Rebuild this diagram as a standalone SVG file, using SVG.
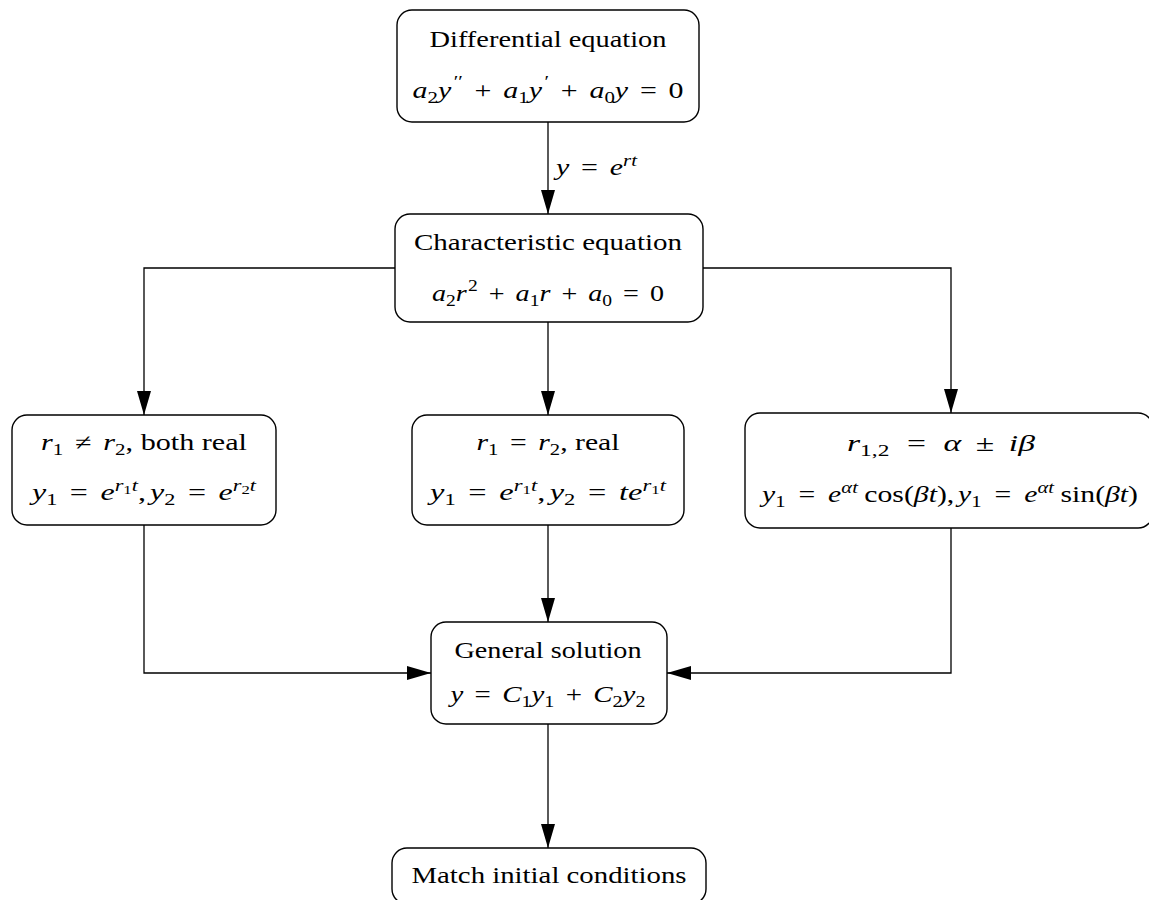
<svg xmlns="http://www.w3.org/2000/svg" width="1149" height="900" viewBox="0 0 1149 900">
<style>
.box{fill:#fff;stroke:#000;stroke-width:1.4}
.t{font-family:"Liberation Serif",serif;font-size:23px;fill:#000}
.m{font-size:23px}
.i{font-style:italic}
.s{font-size:16px}
.ss{font-size:12px}
.c{fill:none;stroke:#000;stroke-width:1.3}
</style>
<defs>
<marker id="ah" markerUnits="userSpaceOnUse" markerWidth="24" markerHeight="14" refX="24" refY="7" orient="auto">
<path d="M0,0 L24,7 L0,14 z" fill="#000"/>
</marker>
</defs>
<rect width="1149" height="900" fill="#fff"/>
<g id="connectors">
<path class="c" d="M548,122 V214" marker-end="url(#ah)"/>
<path class="c" d="M395,268 H144 V415" marker-end="url(#ah)"/>
<path class="c" d="M548,322 V415" marker-end="url(#ah)"/>
<path class="c" d="M703,268 H951 V413" marker-end="url(#ah)"/>
<path class="c" d="M144,525 V673 H431" marker-end="url(#ah)"/>
<path class="c" d="M548,525 V622" marker-end="url(#ah)"/>
<path class="c" d="M951,528 V673 H667" marker-end="url(#ah)"/>
<path class="c" d="M548,724 V848" marker-end="url(#ah)"/>
<text class="t m" x="556" y="175" textLength="81" lengthAdjust="spacingAndGlyphs"><tspan class="i">y</tspan><tspan dx="9">=</tspan><tspan class="i" dx="9">e</tspan><tspan class="s i" dy="-9">rt</tspan></text>
</g>
<g id="n1">
<rect class="box" x="397" y="10" width="302" height="112" rx="15"/>
<text class="t" x="548" y="47" text-anchor="middle" textLength="237" lengthAdjust="spacingAndGlyphs">Differential equation</text>
<text class="t m" x="548" y="98" text-anchor="middle" textLength="271" lengthAdjust="spacingAndGlyphs"><tspan class="i">a</tspan><tspan class="s" dy="5">2</tspan><tspan class="i" dy="-5">y</tspan><tspan class="s" dy="-11" dx="2">′′</tspan><tspan dy="11" dx="9">+</tspan><tspan class="i" dx="9">a</tspan><tspan class="s" dy="5">1</tspan><tspan class="i" dy="-5">y</tspan><tspan class="s" dy="-11" dx="2">′</tspan><tspan dy="11" dx="9">+</tspan><tspan class="i" dx="9">a</tspan><tspan class="s" dy="5">0</tspan><tspan class="i" dy="-5">y</tspan><tspan dx="9">=</tspan><tspan dx="9">0</tspan></text>
</g>
<g id="n2">
<rect class="box" x="395" y="214" width="308" height="108" rx="15"/>
<text class="t" x="548" y="250" text-anchor="middle" textLength="268" lengthAdjust="spacingAndGlyphs">Characteristic equation</text>
<text class="t m" x="548" y="301" text-anchor="middle" textLength="232" lengthAdjust="spacingAndGlyphs"><tspan class="i">a</tspan><tspan class="s" dy="5">2</tspan><tspan class="i" dy="-5">r</tspan><tspan class="s" dy="-10" dx="1">2</tspan><tspan dy="10" dx="9">+</tspan><tspan class="i" dx="9">a</tspan><tspan class="s" dy="5">1</tspan><tspan class="i" dy="-5">r</tspan><tspan dx="9">+</tspan><tspan class="i" dx="9">a</tspan><tspan class="s" dy="5">0</tspan><tspan dy="-5" dx="9">=</tspan><tspan dx="9">0</tspan></text>
</g>
<g id="n3">
<rect class="box" x="12" y="415" width="264" height="110" rx="15"/>
<text class="t m" x="144" y="450" text-anchor="middle" textLength="206" lengthAdjust="spacingAndGlyphs"><tspan class="i">r</tspan><tspan class="s" dy="5">1</tspan><tspan dy="-5" dx="9">≠</tspan><tspan class="i" dx="9">r</tspan><tspan class="s" dy="5">2</tspan><tspan dy="-5">, both real</tspan></text>
<text class="t m" x="144" y="500" text-anchor="middle" textLength="224" lengthAdjust="spacingAndGlyphs"><tspan class="i">y</tspan><tspan class="s" dy="5">1</tspan><tspan dy="-5" dx="9">=</tspan><tspan class="i" dx="9">e</tspan><tspan class="s i" dy="-9">r</tspan><tspan class="ss" dy="3">1</tspan><tspan class="s i" dy="-3">t</tspan><tspan dy="9">,</tspan><tspan class="i" dx="3">y</tspan><tspan class="s" dy="5">2</tspan><tspan dy="-5" dx="9">=</tspan><tspan class="i" dx="9">e</tspan><tspan class="s i" dy="-9">r</tspan><tspan class="ss" dy="3">2</tspan><tspan class="s i" dy="-3">t</tspan></text>
</g>
<g id="n4">
<rect class="box" x="412" y="415" width="272" height="110" rx="15"/>
<text class="t m" x="548" y="450" text-anchor="middle" textLength="143" lengthAdjust="spacingAndGlyphs"><tspan class="i">r</tspan><tspan class="s" dy="5">1</tspan><tspan dy="-5" dx="9">=</tspan><tspan class="i" dx="9">r</tspan><tspan class="s" dy="5">2</tspan><tspan dy="-5">, real</tspan></text>
<text class="t m" x="548" y="500" text-anchor="middle" textLength="236" lengthAdjust="spacingAndGlyphs"><tspan class="i">y</tspan><tspan class="s" dy="5">1</tspan><tspan dy="-5" dx="9">=</tspan><tspan class="i" dx="9">e</tspan><tspan class="s i" dy="-9">r</tspan><tspan class="ss" dy="3">1</tspan><tspan class="s i" dy="-3">t</tspan><tspan dy="9">,</tspan><tspan class="i" dx="3">y</tspan><tspan class="s" dy="5">2</tspan><tspan dy="-5" dx="9">=</tspan><tspan class="i" dx="9">te</tspan><tspan class="s i" dy="-9">r</tspan><tspan class="ss" dy="3">1</tspan><tspan class="s i" dy="-3">t</tspan></text>
</g>
<g id="n5">
<rect class="box" x="745" y="413" width="408" height="115" rx="15"/>
<text class="t m" x="941" y="451" text-anchor="middle" textLength="188" lengthAdjust="spacingAndGlyphs"><tspan class="i">r</tspan><tspan class="s" dy="5">1,2</tspan><tspan dy="-5" dx="12">=</tspan><tspan class="i" dx="12">α</tspan><tspan dx="10">±</tspan><tspan class="i" dx="10">iβ</tspan></text>
<text class="t m" x="950" y="502" text-anchor="middle" textLength="376" lengthAdjust="spacingAndGlyphs"><tspan class="i">y</tspan><tspan class="s" dy="5">1</tspan><tspan dy="-5" dx="10">=</tspan><tspan class="i" dx="10">e</tspan><tspan class="s i" dy="-9">αt</tspan><tspan dy="9" dx="5">cos(</tspan><tspan class="i">βt</tspan><tspan>),</tspan><tspan class="i" dx="3">y</tspan><tspan class="s" dy="5">1</tspan><tspan dy="-5" dx="10">=</tspan><tspan class="i" dx="10">e</tspan><tspan class="s i" dy="-9">αt</tspan><tspan dy="9" dx="5">sin(</tspan><tspan class="i">βt</tspan><tspan>)</tspan></text>
</g>
<g id="n6">
<rect class="box" x="431" y="622" width="236" height="102" rx="15"/>
<text class="t" x="548" y="658" text-anchor="middle" textLength="187" lengthAdjust="spacingAndGlyphs">General solution</text>
<text class="t m" x="548" y="702" text-anchor="middle" textLength="195" lengthAdjust="spacingAndGlyphs"><tspan class="i">y</tspan><tspan dx="9">=</tspan><tspan class="i" dx="9">C</tspan><tspan class="s" dy="5">1</tspan><tspan class="i" dy="-5">y</tspan><tspan class="s" dy="5">1</tspan><tspan dy="-5" dx="9">+</tspan><tspan class="i" dx="9">C</tspan><tspan class="s" dy="5">2</tspan><tspan class="i" dy="-5">y</tspan><tspan class="s" dy="5">2</tspan></text>
</g>
<g id="n7">
<rect class="box" x="392" y="848" width="314" height="56" rx="15"/>
<text class="t" x="549" y="883" text-anchor="middle" textLength="275" lengthAdjust="spacingAndGlyphs">Match initial conditions</text>
</g>
</svg>
